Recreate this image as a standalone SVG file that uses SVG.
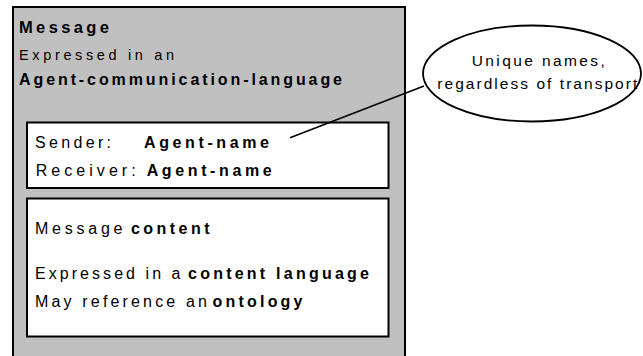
<svg xmlns="http://www.w3.org/2000/svg" width="643" height="356" viewBox="0 0 643 356">
<style>
text{font-family:"Liberation Sans",Arial,sans-serif;fill:#000}
.b{font-weight:bold}
.box{stroke:#000;stroke-width:2}
</style>
<rect width="643" height="356" fill="#fff"/>
<g id="message">
<rect class="box" x="13" y="7" width="392" height="380" fill="#c0c0c0"/>
<text class="b" x="19" y="33" font-size="16.5" textLength="90" lengthAdjust="spacing">Message</text>
<text x="19" y="59.5" font-size="14.5" textLength="155" lengthAdjust="spacing">Expressed in an</text>
<text class="b" x="19" y="85" font-size="16" textLength="323" lengthAdjust="spacing">Agent-communication-language</text>
</g>
<g id="envelope">
<rect class="box" x="27" y="122.5" width="361.5" height="65.5" fill="#fff"/>
<text x="35" y="148" font-size="16" textLength="76" lengthAdjust="spacing">Sender:</text>
<text class="b" x="144" y="148" font-size="16" textLength="125" lengthAdjust="spacing">Agent-name</text>
<text x="35.7" y="175.7" font-size="16" textLength="100" lengthAdjust="spacing">Receiver:</text>
<text class="b" x="146.7" y="175.7" font-size="16" textLength="125" lengthAdjust="spacing">Agent-name</text>
</g>
<g id="content">
<rect class="box" x="27" y="198.5" width="361.5" height="138" fill="#fff"/>
<text x="35" y="234" font-size="16" textLength="87.5" lengthAdjust="spacing">Message</text>
<text class="b" x="131" y="234" font-size="16" textLength="78.5" lengthAdjust="spacing">content</text>
<text x="35" y="279.3" font-size="16" textLength="145.5" lengthAdjust="spacing">Expressed in a</text>
<text class="b" x="188" y="279.3" font-size="16" textLength="181" lengthAdjust="spacing">content language</text>
<text x="35" y="306.5" font-size="16" textLength="172" lengthAdjust="spacing">May reference an</text>
<text class="b" x="212.5" y="306.5" font-size="16" textLength="90" lengthAdjust="spacing">ontology</text>
</g>
<g id="note">
<ellipse cx="532" cy="73.5" rx="109" ry="48" fill="#fff" stroke="#000" stroke-width="1.8"/>
<text x="471.7" y="66" font-size="15.5" textLength="133" lengthAdjust="spacing">Unique names,</text>
<text x="437.3" y="89.3" font-size="15.5" textLength="200" lengthAdjust="spacing">regardless of transport</text>
</g>
<g id="connectors">
<line x1="290" y1="137.7" x2="424" y2="86" stroke="#000" stroke-width="1.5"/>
</g>
</svg>
